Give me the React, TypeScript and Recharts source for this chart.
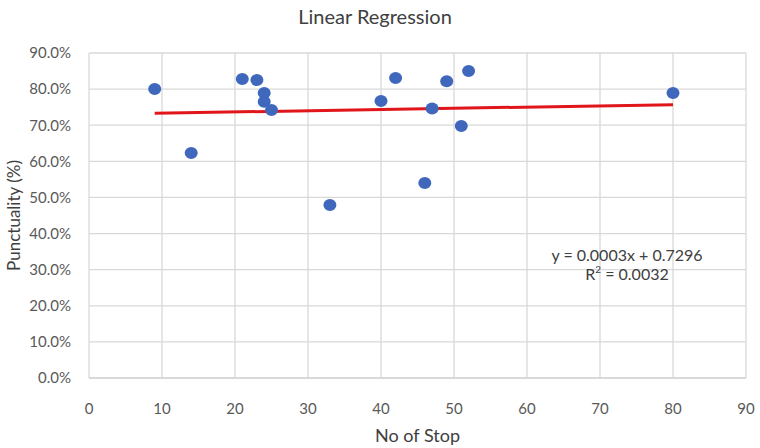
import React from 'react';
import { ScatterChart, Scatter, XAxis, YAxis, CartesianGrid, ReferenceLine, Label } from 'recharts';

const stops = [9, 14, 21, 23, 24, 24, 25, 33, 40, 42, 46, 47, 49, 51, 52, 80];
const punctuality = [0.800, 0.623, 0.828, 0.825, 0.789, 0.765, 0.742, 0.479, 0.767, 0.831, 0.540, 0.746, 0.822, 0.698, 0.850, 0.789];
const xTicks = [0, 10, 20, 30, 40, 50, 60, 70, 80, 90];
const yTicks = [0, 0.1, 0.2, 0.3, 0.4, 0.5, 0.6, 0.7, 0.8, 0.9];
const trendX = [9, 80];
const trendY = [0.733, 0.757];

const points = stops.map((x, i) => ({ x, y: punctuality[i] }));
const FONT = 'Lato, "Open Sans", sans-serif';

export default function App() {
  return (
    <div style={{ position: 'absolute', left: 0, top: 0, width: 760, height: 448, background: '#fff', fontFamily: FONT }}>
      <div style={{ position: 'absolute', left: 0, top: 4, width: 750, textAlign: 'center', fontSize: 20, color: '#404040' }}>
        Linear Regression
      </div>
      <ScatterChart width={760} height={448} margin={{ top: 53, right: 14, bottom: 30, left: 19 }}>
        <CartesianGrid stroke="#d9d9d9" strokeWidth={1.3} />
        <XAxis
          type="number"
          dataKey="x"
          domain={[0, 90]}
          ticks={xTicks}
          axisLine={{ stroke: '#d0d0d0' }}
          tickLine={false}
          tick={{ fill: '#595959', fontSize: 15, fontFamily: FONT }}
          tickMargin={19}
          height={40}
        >
          <Label value="No of Stop" position="insideBottom" offset={-24} style={{ fill: '#404040', fontSize: 18, fontFamily: FONT }} />
        </XAxis>
        <YAxis
          type="number"
          dataKey="y"
          domain={[0, 0.9]}
          ticks={yTicks}
          tickFormatter={(v: number) => (v * 100).toFixed(1) + '%'}
          axisLine={false}
          tickLine={false}
          tick={{ fill: '#595959', fontSize: 15, fontFamily: FONT }}
          tickMargin={12}
          width={70}
        >
          <Label value="Punctuality (%)" angle={-90} position="insideLeft" offset={-5} style={{ fill: '#404040', fontSize: 17, fontFamily: FONT, textAnchor: 'middle' }} />
        </YAxis>
        <ReferenceLine
          segment={[{ x: trendX[0], y: trendY[0] }, { x: trendX[1], y: trendY[1] }]}
          stroke="#e0161b"
          strokeWidth={3}
          ifOverflow="visible"
        />
        <Scatter
          data={points}
          fill="#4472c4"
          isAnimationActive={false}
          shape={(p: any) => <ellipse cx={p.cx} cy={p.cy} rx={6.5} ry={6} fill="#3f68bd" />}
        />
      </ScatterChart>
      <div style={{ position: 'absolute', left: 547, top: 245, width: 160, textAlign: 'center', fontSize: 16, color: '#404040', lineHeight: '19px' }}>
        y = 0.0003x + 0.7296
        <br />
        R<sup style={{ fontSize: 10, verticalAlign: 'top', lineHeight: '10px' }}>2</sup> = 0.0032
      </div>
    </div>
  );
}
